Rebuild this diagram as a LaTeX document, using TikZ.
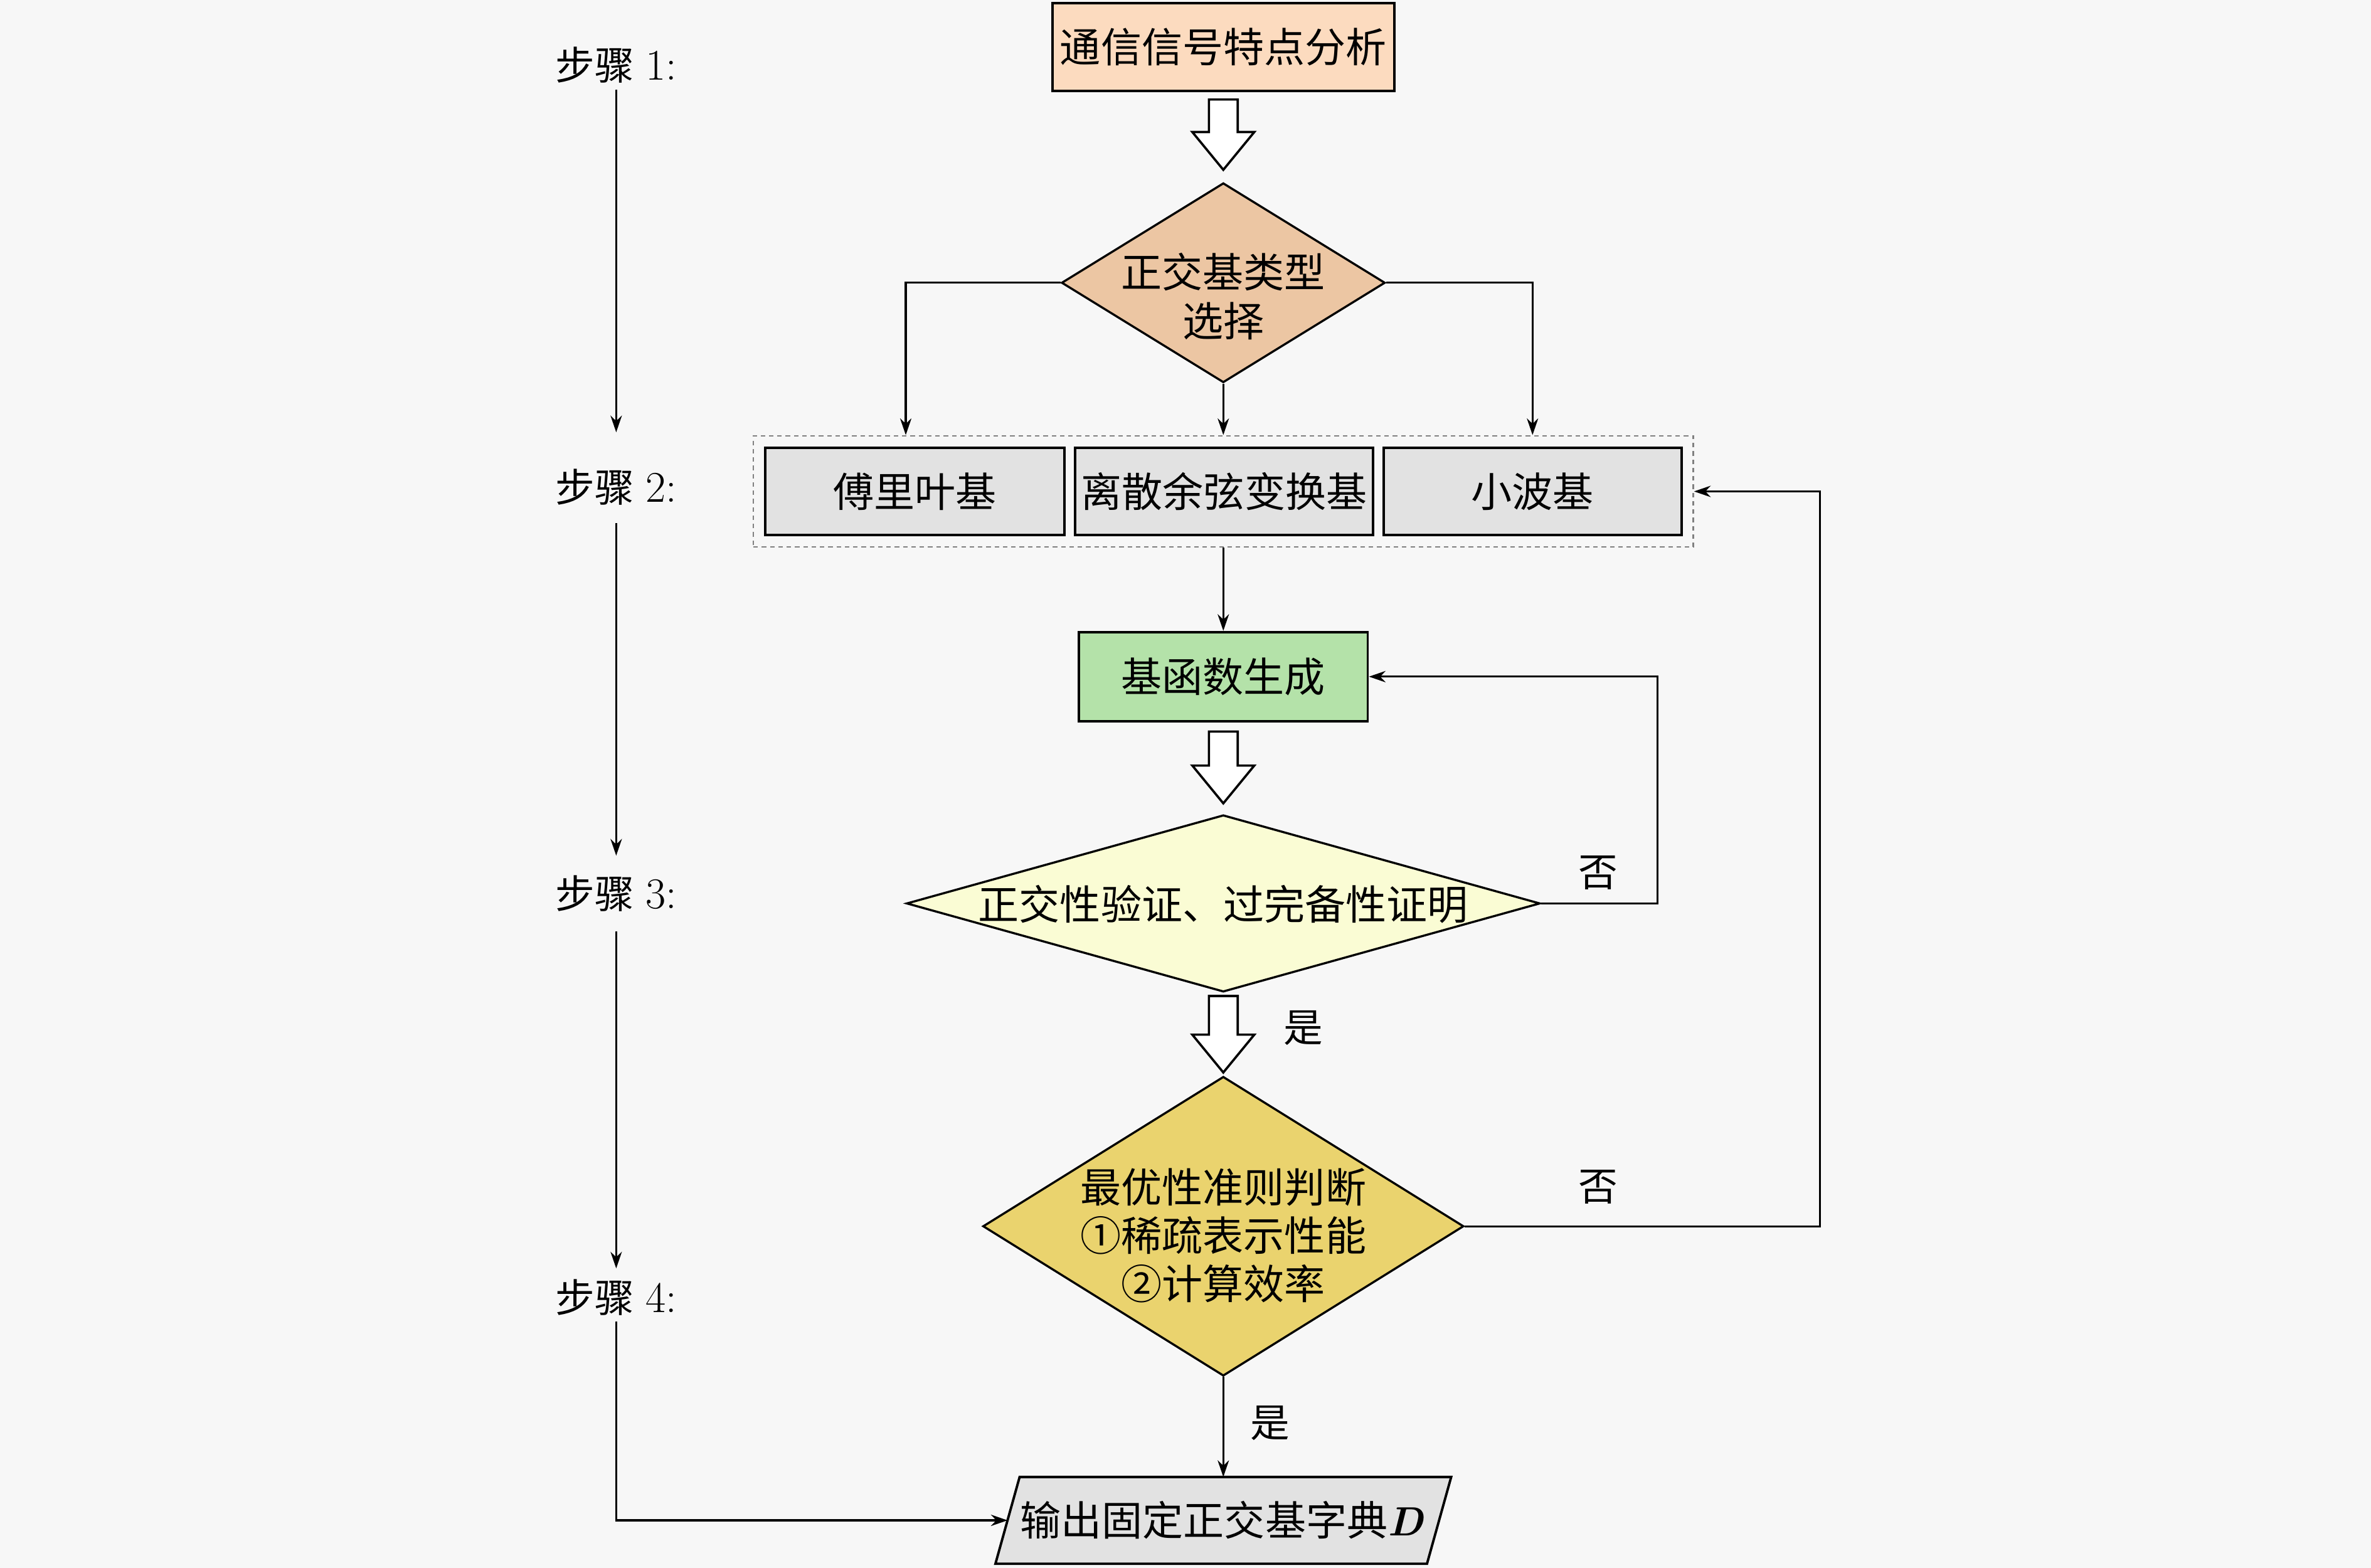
\documentclass[tikz,border=0pt]{standalone}
\usepackage{fontspec}
\newfontfamily\cjk{Noto Sans CJK SC}
\usetikzlibrary{arrows.meta,fit,calc,shapes.geometric}
\definecolor{bg}{HTML}{F7F7F7}
\definecolor{cPeach}{HTML}{FCDBBF}
\definecolor{cTan}{HTML}{ECC6A3}
\definecolor{cGray}{HTML}{E2E2E2}
\definecolor{cGreen}{HTML}{B4E2A9}
\definecolor{cPale}{HTML}{FAFCD4}
\definecolor{cGold}{HTML}{EAD36E}
\newcommand{\hollowarr}[4]{%
  \draw[hollowstyle] let \p1=(#1), \p2=(#2) in
    (\x1-9.5pt,\y1-#3) -- (\x1+9.5pt,\y1-#3) -- (\x1+9.5pt,\y2+#4+25pt)
    -- (\x1+20.5pt,\y2+#4+25pt) -- (\x1,\y2+#4) -- (\x1-20.5pt,\y2+#4+25pt)
    -- (\x1-9.5pt,\y2+#4+25pt) -- cycle;}
\begin{document}
\begin{tikzpicture}[x=1pt,y=-1pt,
  boxnode/.style={draw, line width=1.6pt, inner sep=0pt, align=center,
    font=\cjk\fontsize{27}{32}\selectfont},
  dianode/.style={diamond, draw, line width=1.4pt, inner sep=0pt},
  txtnode/.style={inner sep=0pt, align=center, font=\cjk\fontsize{27}{32}\selectfont},
  lblnode/.style={inner sep=0pt, font=\cjk\fontsize{26}{30}\selectfont},
  stepnode/.style={inner sep=0pt, font=\fontsize{26}{30}\selectfont},
  conn/.style={line width=1.3pt, -{Stealth[length=11pt,width=7.5pt]}},
  hollowstyle/.style={line width=1.5pt, fill=white, line join=miter},
  grpstyle/.style={draw=gray, line width=1pt, dash pattern=on 3pt off 2.5pt, inner sep=7pt}
]
\fill[bg] (0,0) rectangle (1568,1037);
\useasboundingbox (0,0) rectangle (1568,1037);

% main column
\node[boxnode, fill=cPeach, minimum width=226pt, minimum height=58pt] (top) at (809,31) {通信信号特点分析};

\node[dianode, fill=cTan, minimum width=214pt, minimum height=132pt] (d1) at (809,187) {};
\node[txtnode] (t1) at (809,196) {正交基类型\\选择};

\node[boxnode, fill=cGray, minimum width=198pt, minimum height=58pt] (b1) at (605,325) {傅里叶基};
\node[boxnode, fill=cGray, minimum width=197pt, minimum height=58pt] (b2) at (809.5,325) {离散余弦变换基};
\node[boxnode, fill=cGray, minimum width=197pt, minimum height=58pt] (b3) at (1013.5,325) {小波基};
\node[grpstyle, fit=(b1)(b2)(b3)] (grp) {};
\coordinate (gs) at (809,361);

\node[boxnode, fill=cGreen, minimum width=191pt, minimum height=59pt] (gen) at (809,447.5) {基函数生成};

\node[dianode, fill=cPale, minimum width=419pt, minimum height=117pt] (d2) at (809,597.5) {};
\node[txtnode] (t2) at (809,598) {正交性验证、过完备性证明};

\node[dianode, fill=cGold, minimum width=318pt, minimum height=198pt] (d3) at (809,811) {};
\node[txtnode] (t3) at (809,817) {最优性准则判断\\①稀疏表示性能\\②计算效率};

\node[inner sep=0pt, minimum width=285pt, minimum height=57pt] (out) at (809,1005.5) {};
\draw[line width=1.6pt, fill=cGray, line join=miter]
  ([xshift=8pt]out.north west) -- ([xshift=8pt]out.north east)
  -- ([xshift=-8pt]out.south east) -- ([xshift=-8pt]out.south west) -- cycle;
\node[txtnode] (t4) at (808,1005.5) {输出固定正交基字典{\rmfamily\bfseries\itshape D}};

% hollow arrows
\hollowarr{top.south}{d1.north}{5pt}{8pt}
\hollowarr{gen.south}{d2.north}{6pt}{7pt}
\hollowarr{d2.south}{d3.north}{2pt}{2pt}

% connectors
\coordinate (la) at ($(b1.north)+(-6,0)$);
\draw[conn] (d1.west) -| (la |- grp.north);
\draw[conn] (d1.east) -| (b3.north |- grp.north);
\draw[conn] (d1.south) -- (d1.south |- grp.north);
\draw[conn] (gs |- grp.south) -- (gen.north);
\draw[conn] (d2.east) -- ++(77,0) |- (gen.east);
\draw[conn] (d3.east) -- ++(235,0) |- (grp.east);
\draw[conn] (d3.south) -- (out.north);

\node[lblnode] (no1) at (1057,577) {否};
\node[lblnode] (yes1) at (862,680) {是};
\node[lblnode] (no2) at (1057,785) {否};
\node[lblnode] (yes2) at (840,941) {是};

% steps column
\node[stepnode] (s1) at (407.5,43) {{\cjk 步骤}~{\fontsize{29}{30}\selectfont 1:}};
\node[stepnode] (s2) at (407.5,322) {{\cjk 步骤}~{\fontsize{29}{30}\selectfont 2:}};
\node[stepnode] (s3) at (407.5,591) {{\cjk 步骤}~{\fontsize{29}{30}\selectfont 3:}};
\node[stepnode] (s4) at (407.5,858) {{\cjk 步骤}~{\fontsize{29}{30}\selectfont 4:}};
\draw[conn, shorten <=4pt, shorten >=24pt] (s1.south) -- (s2.north);
\draw[conn, shorten <=12pt, shorten >=13pt] (s2.south) -- (s3.north);
\draw[conn, shorten <=13pt, shorten >=7pt] (s3.south) -- (s4.north);
\draw[conn, shorten <=4pt] (s4.south) |- (out.west);
\end{tikzpicture}
\end{document}
